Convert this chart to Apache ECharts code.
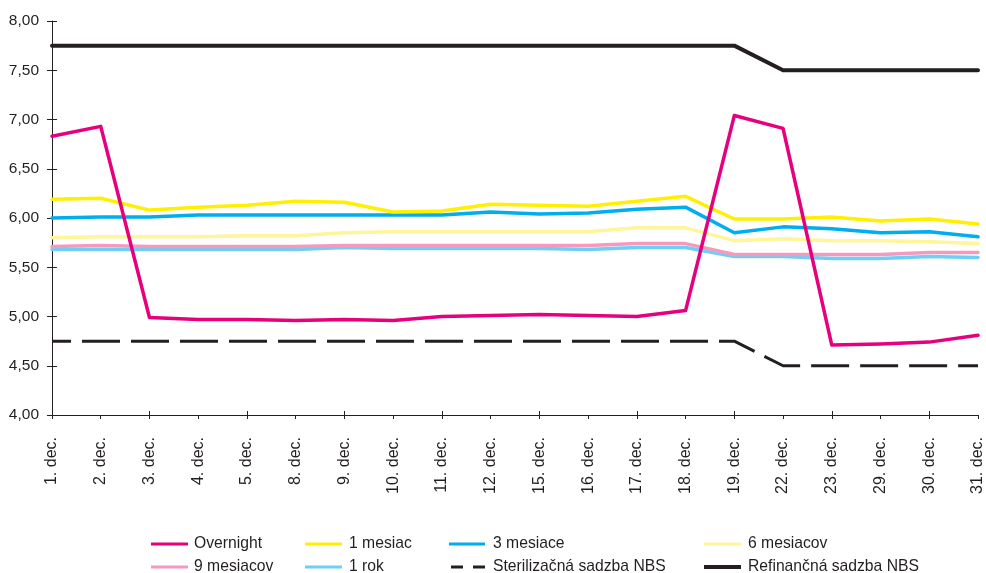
<!DOCTYPE html>
<html>
<head>
<meta charset="utf-8">
<script src="https://cdn.jsdelivr.net/npm/echarts@6/dist/echarts.min.js"></script>
<style>
html,body{margin:0;padding:0;background:#fff;}
#chart{width:986px;height:573px;}
</style>
</head>
<body>
<div id="chart"></div>
<script>
const categories = ['1. dec.','2. dec.','3. dec.','4. dec.','5. dec.','8. dec.','9. dec.','10. dec.','11. dec.','12. dec.','15. dec.','16. dec.','17. dec.','18. dec.','19. dec.','22. dec.','23. dec.','29. dec.','30. dec.','31. dec.'];
const overnight = [6.83,6.93,4.99,4.97,4.97,4.96,4.97,4.96,5.00,5.01,5.02,5.01,5.00,5.06,7.04,6.91,4.71,4.72,4.74,4.81];
const mesiac1 = [6.19,6.20,6.08,6.11,6.13,6.17,6.16,6.06,6.07,6.14,6.13,6.12,6.17,6.22,5.99,5.99,6.01,5.97,5.99,5.94];
const mesiace3 = [6.00,6.01,6.01,6.03,6.03,6.03,6.03,6.03,6.03,6.06,6.04,6.05,6.09,6.11,5.85,5.91,5.89,5.85,5.86,5.81];
const mesiacov6 = [5.80,5.81,5.81,5.81,5.82,5.82,5.85,5.86,5.86,5.86,5.86,5.86,5.90,5.90,5.77,5.79,5.77,5.77,5.76,5.74];
const mesiacov9 = [5.71,5.72,5.71,5.71,5.71,5.71,5.72,5.72,5.72,5.72,5.72,5.72,5.74,5.74,5.63,5.63,5.63,5.63,5.65,5.65];
const rok1 = [5.68,5.68,5.68,5.68,5.68,5.68,5.70,5.69,5.69,5.69,5.69,5.68,5.70,5.70,5.61,5.61,5.59,5.59,5.61,5.60];
const sterilizacna = [4.75,4.75,4.75,4.75,4.75,4.75,4.75,4.75,4.75,4.75,4.75,4.75,4.75,4.75,4.75,4.50,4.50,4.50,4.50,4.50];
const refinancna = [7.75,7.75,7.75,7.75,7.75,7.75,7.75,7.75,7.75,7.75,7.75,7.75,7.75,7.75,7.75,7.50,7.50,7.50,7.50,7.50];
const yMin = 4, yMax = 8, yStep = 0.5;

const FONT = 'Liberation Sans, Arial, sans-serif';
const TXT = '#231f20';
const AX = '#231f20';

const C = {
  overnight: '#e6007e', m1: '#fff000', m3: '#00aeef', m6: '#fff59a',
  m9: '#f49ac1', r1: '#6dcff6', black: '#231f20'
};

const chart = echarts.init(document.getElementById('chart'), null, {renderer:'canvas'});

function line(name, data, color, width, extra) {
  return Object.assign({
    name: name, type: 'line', data: data, symbol: 'none', showSymbol: false,
    clip: false, animation: false,
    lineStyle: {color: color, width: width, cap: 'round', join: 'round'},
    itemStyle: {color: color},
    emphasis: {disabled: true}
  }, extra || {});
}

function leg(name, left, top, width, pad, icon, h) {
  return {
    orient: 'horizontal', left: left, top: top, itemWidth: width, itemHeight: h || 3,
    padding: 0, selectedMode: false, icon: icon || 'rect',
    textStyle: {fontFamily: FONT, fontSize: 15.7, color: TXT, padding: [0, 0, 0, pad]},
    data: [name]
  };
}

const R1 = 536, R2 = 559;

const option = {
  animation: false,
  backgroundColor: '#fff',
  grid: {left: 52, right: 3, top: 21, bottom: 158, containLabel: false},
  xAxis: [{
    type: 'category', data: categories, boundaryGap: false,
    axisLine: {show: true, lineStyle: {color: AX, width: 1}},
    axisTick: {show: true, length: 4, alignWithLabel: true, lineStyle: {color: AX}},
    axisLabel: {rotate: 90, margin: 22, fontFamily: FONT, fontSize: 16, color: TXT, interval: 0},
    splitLine: {show: false}
  }, {
    type: 'category', data: categories, boundaryGap: false, position: 'bottom',
    axisLine: {show: false},
    axisTick: {show: true, inside: true, length: 4, lineStyle: {color: AX}},
    axisLabel: {show: false}, splitLine: {show: false}
  }],
  yAxis: [{
    type: 'value', min: yMin, max: yMax, interval: yStep,
    axisLine: {show: true, lineStyle: {color: AX, width: 1}},
    axisTick: {show: true, length: 5, lineStyle: {color: AX}},
    axisLabel: {margin: 13, fontFamily: FONT, fontSize: 15.5, color: TXT,
      formatter: v => v.toFixed(2).replace('.', ',')},
    splitLine: {show: false}
  }, {
    type: 'value', min: yMin, max: yMax, interval: yStep, position: 'left',
    axisLine: {show: false},
    axisTick: {show: true, inside: true, length: 5, lineStyle: {color: AX}},
    axisLabel: {show: false}, splitLine: {show: false}
  }],
  legend: [
    leg('Overnight', 151, R1, 37, 1),
    leg('9 mesiacov', 151, R2, 37, 1),
    leg('1 mesiac', 305, R1, 37, 2),
    leg('1 rok', 305, R2, 37, 2),
    leg('3 mesiace', 449, R1, 36, 3),
    leg('Sterilizačná sadzba NBS', 451, R2, 34, 3, 'path://M0,0H12V3H0ZM22,0H34V3H22Z'),
    leg('6 mesiacov', 704, R1, 37, 2),
    leg('Refinančná sadzba NBS', 704, R2, 37, 2, 'rect', 4)
  ],
  series: [
    line('1 rok', rok1, C.r1, 3.5),
    line('9 mesiacov', mesiacov9, C.m9, 3.5),
    line('6 mesiacov', mesiacov6, C.m6, 3.5),
    line('3 mesiace', mesiace3, C.m3, 3.5),
    line('1 mesiac', mesiac1, C.m1, 3.5),
    line('Sterilizačná sadzba NBS', sterilizacna, C.black, 3, {lineStyle: {color: C.black, width: 3, type: [38, 11], dashOffset: 19, cap: 'butt'}}),
    line('Refinančná sadzba NBS', refinancna, C.black, 4),
    line('Overnight', overnight, C.overnight, 3.5)
  ]
};
chart.setOption(option);
</script>
</body>
</html>
